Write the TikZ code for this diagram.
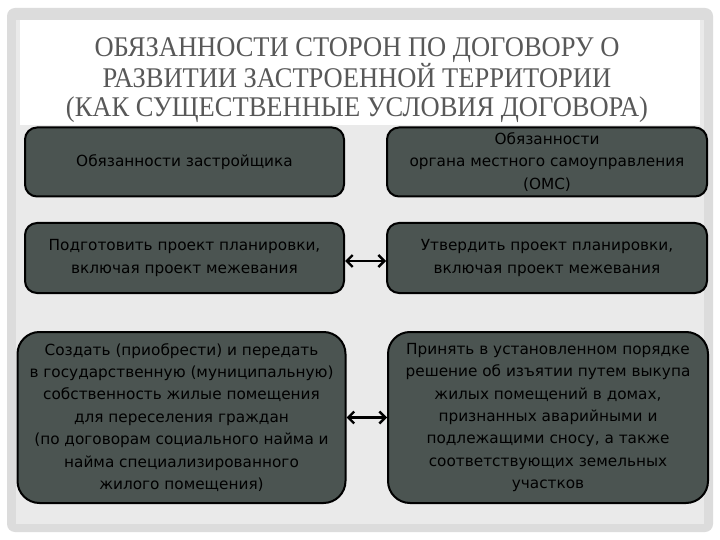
\documentclass[tikz,border=0pt]{standalone}
\usepackage{fontspec}
\newfontfamily\titlefont[FakeStretch=0.93]{Liberation Serif}
\newfontfamily\boxfont{DejaVu Sans}
\usetikzlibrary{arrows.meta}
\definecolor{framegray}{HTML}{DCDCDC}
\definecolor{innergray}{HTML}{EAEAEA}
\definecolor{boxfill}{HTML}{4B5451}
\definecolor{titlegray}{HTML}{585858}
\tikzset{
  dbox/.style={draw=black, line width=2pt, fill=boxfill, rounded corners=#1,
    inner sep=0pt, align=center, font=\boxfont\fontsize{15.3}{22.4}\selectfont, text=black},
  dbox/.default=12pt,
  link/.style={line width=2.4pt, {Straight Barb[length=6pt,width=12pt]}-{Straight Barb[length=6pt,width=12pt]}}
}
\begin{document}
\begin{tikzpicture}[x=1pt,y=-1pt]
\useasboundingbox (0,0) rectangle (720,540);
\fill[white] (0,0) rectangle (720,540);
\fill[framegray, rounded corners=8pt] (7,8) rectangle (713,532);
\fill[innergray] (16,20) rectangle (704,524);
\fill[white] (20,20) rectangle (700,125);
\node[font=\titlefont\fontsize{28.5}{29}\selectfont, text=titlegray, align=center] (title) at (357,80)
  {ОБЯЗАННОСТИ СТОРОН ПО ДОГОВОРУ О\\РАЗВИТИИ ЗАСТРОЕННОЙ ТЕРРИТОРИИ\\(КАК СУЩЕСТВЕННЫЕ УСЛОВИЯ ДОГОВОРА)};
\node[dbox, minimum width=319pt, minimum height=69pt] (dev) at (184.5,162) {Обязанности застройщика};
\node[dbox, minimum width=320pt, minimum height=69pt] (oms) at (547,162) {Обязанности\\органа местного самоуправления\\(ОМС)};
\node[dbox, minimum width=319pt, minimum height=70pt] (plan1) at (184.5,258) {Подготовить проект планировки,\\включая проект межевания};
\node[dbox, minimum width=320pt, minimum height=70pt] (plan2) at (547,258) {Утвердить проект планировки,\\включая проект межевания};
\node[dbox=22pt, minimum width=328pt, minimum height=171pt] (flat1) at (181.5,417.5) {Создать (приобрести) и передать\\в государственную (муниципальную)\\собственность жилые помещения\\для переселения граждан\\(по договорам социального найма и\\найма специализированного\\жилого помещения)};
\node[dbox=22pt, minimum width=320pt, minimum height=171pt] (flat2) at (548,417.5) {Принять в установленном порядке\\решение об изъятии путем выкупа\\жилых помещений в домах,\\признанных аварийными и\\подлежащими сносу, а также\\соответствующих земельных\\участков};
\draw[link] ([yshift=-3pt]plan1.east) -- ([yshift=-3pt]plan2.west);
\draw[link] (flat1.east) -- (flat2.west);
\end{tikzpicture}
\end{document}
